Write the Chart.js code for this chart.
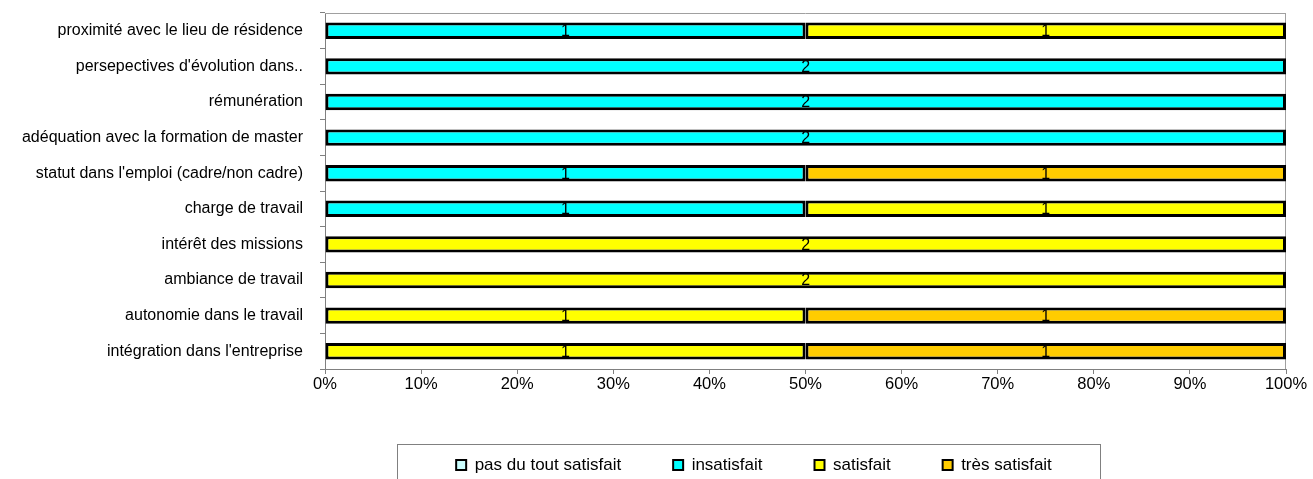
<!DOCTYPE html>
<html>
<head>
<meta charset="utf-8">
<script src="https://cdn.jsdelivr.net/npm/chart.js@4"></script>
<style>
  html, body { margin: 0; padding: 0; background: #fff; }
  #wrap { width: 1313px; height: 479px; position: relative; }
</style>
</head>
<body>
<div id="wrap"><canvas id="c" width="1313" height="479"></canvas></div>
<script>
const categories = [
  "proximité avec le lieu de résidence",
  "persepectives d'évolution dans..",
  "rémunération",
  "adéquation avec la formation de master",
  "statut dans l'emploi (cadre/non cadre)",
  "charge de travail",
  "intérêt des missions",
  "ambiance de travail",
  "autonomie dans le travail",
  "intégration dans l'entreprise"
];
const seriesNames = ["pas du tout satisfait", "insatisfait", "satisfait", "très satisfait"];
const pasDuToutSatisfait = [0, 0, 0, 0, 0, 0, 0, 0, 0, 0];
const insatisfait        = [1, 2, 2, 2, 1, 1, 0, 0, 0, 0];
const satisfait          = [1, 0, 0, 0, 0, 1, 2, 2, 1, 1];
const tresSatisfait      = [0, 0, 0, 0, 1, 0, 0, 0, 1, 1];
const xTickValues = [0, 10, 20, 30, 40, 50, 60, 70, 80, 90, 100];

const seriesCounts = [pasDuToutSatisfait, insatisfait, satisfait, tresSatisfait];
const seriesColors = ["#CCFFFF", "#00FFFF", "#FFFF00", "#FFCC00"];
const totals = categories.map((_, i) => seriesCounts.reduce((s, arr) => s + arr[i], 0));

const FONT = "'Liberation Sans', Arial, sans-serif";
Chart.defaults.color = "#000";
Chart.defaults.font.family = FONT;

const datasets = seriesNames.map((name, k) => ({
  label: name,
  counts: seriesCounts[k],
  data: seriesCounts[k].map((v, i) => totals[i] ? v / totals[i] * 100 : 0),
  backgroundColor: seriesColors[k],
  borderColor: "#000",
  borderWidth: 3,
  borderSkipped: false,
  barPercentage: 0.92,
  categoryPercentage: 0.5
}));

const LEGEND_FRAME = { left: 397.5, top: 444.5, width: 703, height: 60 };

const plotFrame = {
  id: "plotFrame",
  beforeDatasetsDraw(chart) {
    const { ctx, chartArea: a } = chart;
    ctx.save();
    ctx.strokeStyle = "#a0a0a0";
    ctx.lineWidth = 1;
    ctx.beginPath();
    ctx.moveTo(a.left, Math.round(a.top) + 0.5);
    ctx.lineTo(a.right, Math.round(a.top) + 0.5);
    ctx.moveTo(Math.round(a.right) - 0.5, a.top);
    ctx.lineTo(Math.round(a.right) - 0.5, a.bottom);
    ctx.stroke();
    ctx.restore();
  }
};

const valueLabels = {
  id: "valueLabels",
  afterDatasetsDraw(chart) {
    const { ctx } = chart;
    ctx.save();
    ctx.font = "16px " + FONT;
    ctx.fillStyle = "#000";
    ctx.textAlign = "center";
    ctx.textBaseline = "middle";
    chart.data.datasets.forEach((ds, di) => {
      const meta = chart.getDatasetMeta(di);
      meta.data.forEach((el, i) => {
        const c = ds.counts[i];
        if (!c) return;
        const p = el.getProps(["x", "y", "base"], true);
        ctx.fillText(String(c), (p.x + p.base) / 2, p.y + 1);
      });
    });
    ctx.restore();
  }
};

const legendPlace = {
  id: "legendPlace",
  afterLayout(chart) {
    const l = chart.legend;
    l.left = LEGEND_FRAME.left + 5;
    l.right = LEGEND_FRAME.left + LEGEND_FRAME.width + 5;
    l.width = l.right - l.left;
    l.top = 404.5;
  },
  afterDraw(chart) {
    const { ctx } = chart;
    ctx.save();
    ctx.strokeStyle = "#808080";
    ctx.lineWidth = 1;
    ctx.strokeRect(LEGEND_FRAME.left, LEGEND_FRAME.top, LEGEND_FRAME.width, LEGEND_FRAME.height);
    ctx.restore();
  }
};

new Chart(document.getElementById("c"), {
  type: "bar",
  data: { labels: categories, datasets },
  plugins: [plotFrame, valueLabels, legendPlace],
  options: {
    indexAxis: "y",
    responsive: false,
    animation: false,
    layout: { padding: { top: 13, right: 27, left: 0, bottom: 0 } },
    scales: {
      x: {
        stacked: true,
        min: 0,
        max: 100,
        afterBuildTicks(scale) { scale.ticks = xTickValues.map(v => ({ value: v })); },
        afterFit(scale) { scale.height = 40; },
        ticks: {
          callback: v => v + "%",
          font: { size: 16.5, family: FONT },
          color: "#000",
          padding: 1,
          maxRotation: 0
        },
        grid: { drawOnChartArea: false, drawTicks: true, tickLength: 5, color: "#808080" },
        border: { color: "#808080", width: 1 }
      },
      y: {
        stacked: true,
        afterFit(scale) { scale.width = 325; scale.paddingTop = 0; scale.paddingBottom = 0; },
        ticks: {
          font: { size: 16, family: FONT },
          color: "#000",
          padding: 17,
          autoSkip: false
        },
        grid: { drawOnChartArea: false, drawTicks: true, tickLength: 5, color: "#808080", offset: true },
        border: { color: "#808080", width: 1 }
      }
    },
    plugins: {
      tooltip: { enabled: false },
      legend: {
        position: "bottom",
        maxHeight: 70,
        labels: {
          boxWidth: 10,
          boxHeight: 10,
          padding: 52,
          color: "#000",
          font: { size: 17, family: FONT },
          generateLabels(chart) {
            return Chart.defaults.plugins.legend.labels.generateLabels(chart)
              .map(item => Object.assign(item, { lineWidth: 2 }));
          }
        }
      }
    }
  }
});
</script>
</body>
</html>
